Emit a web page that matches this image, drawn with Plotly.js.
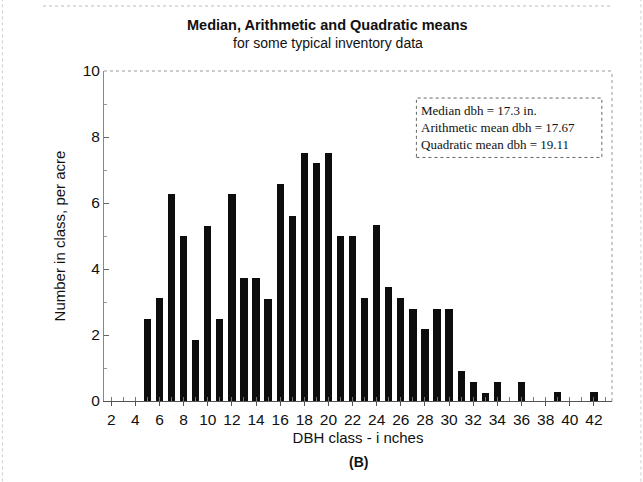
<!DOCTYPE html>
<html>
<head>
<meta charset="utf-8">
<script src="https://cdn.plot.ly/plotly-3.0.1.min.js"></script>
<style>html,body{margin:0;padding:0;background:#fff;}#chart{width:643px;height:482px;}</style>
</head>
<body>
<div id="chart"></div>
<script>
// DBH classes (inches) and number of trees per acre in each class
const dbhClass = [5,6,7,8,9,10,11,12,13,14,15,16,17,18,19,20,21,22,23,24,25,26,27,28,29,30,31,32,33,34,36,39,42];
const treesPerAcre = [2.5,3.12,6.27,5.0,1.85,5.3,2.5,6.27,3.72,3.72,3.1,6.58,5.6,7.52,7.2,7.52,5.0,5.0,3.12,5.32,3.45,3.12,2.8,2.17,2.8,2.78,0.9,0.57,0.25,0.57,0.58,0.27,0.27];
const xTickVals = [2,4,6,8,10,12,14,16,18,20,22,24,26,28,30,32,34,36,38,40,42];
const yTickVals = [0,2,4,6,8,10];
const statLines = ["Median dbh = 17.3 in.", "Arithmetic mean dbh = 17.67", "Quadratic mean dbh = 19.11"];
const titleMain = "Median, Arithmetic and Quadratic means";
const titleSub = "for some typical inventory data";

const trace = {
  type: 'bar',
  x: dbhClass,
  y: treesPerAcre,
  width: 0.6,
  marker: {color: '#0d0d0d', line: {width: 0}},
  hoverinfo: 'x+y'
};

const sans = 'Liberation Sans, Arial, sans-serif';
const layout = {
  width: 643, height: 482,
  margin: {l: 104, r: 31, t: 71, b: 81},
  paper_bgcolor: '#fff', plot_bgcolor: '#fff',
  showlegend: false,
  bargap: 0,
  xaxis: {
    range: [1.4, 43.5],
    tickvals: xTickVals,
    ticks: 'outside', ticklen: 4, tickcolor: '#555', tickwidth: 1,
    minor: {dtick: 1, ticks: 'inside', ticklen: 4, tickcolor: '#777'},
    showgrid: false, zeroline: false,
    showline: true, linecolor: '#555', linewidth: 1,
    tickfont: {family: sans, size: 15.5, color: '#111'},
    title: {text: 'DBH class - i nches', font: {family: sans, size: 15, color: '#111'}, standoff: 5}
  },
  yaxis: {
    range: [0, 10],
    tickvals: yTickVals,
    ticks: 'inside', ticklen: 5, tickcolor: '#666',
    minor: {dtick: 1, ticks: 'inside', ticklen: 3, tickcolor: '#999'},
    showgrid: false, zeroline: false,
    showline: true, linecolor: '#888', linewidth: 1,
    tickfont: {family: sans, size: 15.5, color: '#111'},
    title: {text: 'Number in class, per acre', font: {family: sans, size: 15, color: '#111'}, standoff: 13}
  },
  shapes: [
    // plot frame (top and right, dotted)
    {type: 'line', xref: 'paper', yref: 'paper', x0: 0, x1: 1, y0: 1, y1: 1, line: {color: '#999', width: 1, dash: 'dot'}},
    {type: 'line', xref: 'paper', yref: 'paper', x0: 1, x1: 1, y0: 0, y1: 1, line: {color: '#999', width: 1, dash: 'dot'}},
    // stats box
    {type: 'rect', xref: 'paper', yref: 'paper', x0: 0.615, x1: 0.98, y0: 0.738, y1: 0.918, line: {color: '#666', width: 1, dash: 'dot'}, fillcolor: 'rgba(0,0,0,0)'},
    // faint outer page frame
    {type: 'line', xref: 'paper', yref: 'paper', x0: -0.2, x1: -0.2, y0: -0.28, y1: 1.22, line: {color: '#ccc', width: 1, dash: 'dot'}},
    {type: 'line', xref: 'paper', yref: 'paper', x0: 1.057, x1: 1.057, y0: -0.28, y1: 1.22, line: {color: '#ccc', width: 1, dash: 'dot'}},
    {type: 'line', xref: 'paper', yref: 'paper', x0: -0.12, x1: 1.0, y0: 1.197, y1: 1.197, line: {color: '#bbb', width: 1, dash: 'dot'}}
  ],
  annotations: [
    {xref: 'paper', yref: 'paper', x: 0.44, y: 1.139, xanchor: 'center', yanchor: 'middle', showarrow: false,
     text: '<b>' + titleMain + '</b>', font: {family: sans, size: 14.5, color: '#111'}},
    {xref: 'paper', yref: 'paper', x: 0.44, y: 1.085, xanchor: 'center', yanchor: 'middle', showarrow: false,
     text: titleSub, font: {family: sans, size: 14, color: '#111'}},
    {xref: 'paper', yref: 'paper', x: 0.621, y: 0.828, xanchor: 'left', yanchor: 'middle', align: 'left', showarrow: false,
     text: statLines.join('<br>'), font: {family: 'Liberation Serif, Times New Roman, serif', size: 13, color: '#111'}},
    {xref: 'paper', yref: 'paper', x: 0.5, y: -0.185, xanchor: 'center', yanchor: 'middle', showarrow: false,
     text: '<b>(B)</b>', font: {family: sans, size: 14, color: '#111'}}
  ]
};

Plotly.newPlot('chart', [trace], layout, {displayModeBar: false, staticPlot: true});
</script>
</body>
</html>
